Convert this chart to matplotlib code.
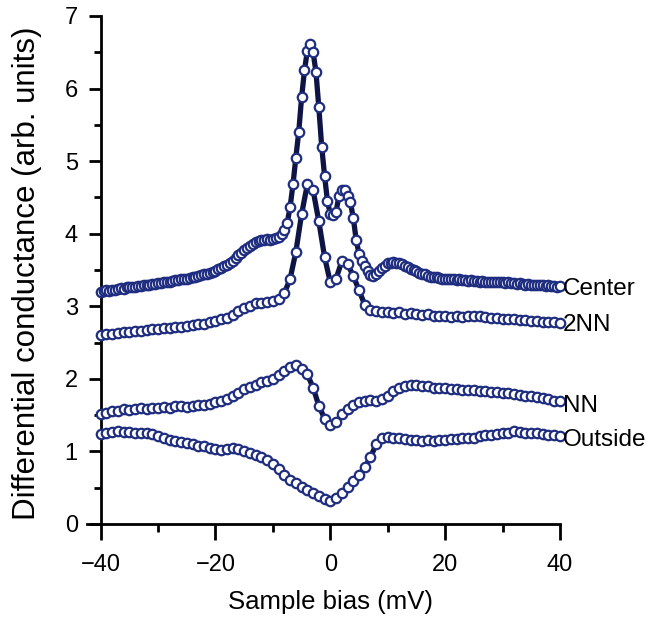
import numpy as np
import matplotlib
matplotlib.use("Agg")
import matplotlib.pyplot as plt
from matplotlib.ticker import MultipleLocator

plt.rcParams['font.family'] = ['Liberation Sans', 'DejaVu Sans']

# ---------------- data ----------------
center_bias = np.arange(-40, 40.01, 0.5)
center_vals = [
    3.20, 3.21, 3.22, 3.21, 3.23, 3.23, 3.24, 3.25, 3.24, 3.26,
    3.26, 3.27, 3.27, 3.28, 3.28, 3.29, 3.29, 3.30, 3.31, 3.31,
    3.32, 3.32, 3.33, 3.34, 3.34, 3.35, 3.36, 3.36, 3.37, 3.38,
    3.38, 3.39, 3.40, 3.41, 3.42, 3.43, 3.44, 3.45, 3.46, 3.47,
    3.49,
    3.51, 3.53, 3.55, 3.57, 3.60, 3.63, 3.66, 3.70, 3.74, 3.77,
    3.80, 3.83, 3.86, 3.88, 3.90, 3.91, 3.92, 3.93, 3.92, 3.93,
    3.94, 3.96, 3.99, 4.05, 4.15, 4.37, 4.68, 5.05, 5.40, 5.88,
    6.25, 6.52, 6.62, 6.50, 6.23, 5.74, 5.20, 4.80, 4.45, 4.27,
    4.26, 4.30, 4.52, 4.60, 4.60, 4.52, 4.43, 4.22, 3.92, 3.72,
    3.62, 3.56, 3.48, 3.43, 3.42, 3.44, 3.48, 3.53, 3.56, 3.59,
    3.60, 3.61, 3.60, 3.59, 3.58, 3.56, 3.54, 3.52, 3.50, 3.48,
    3.46, 3.45, 3.44, 3.42, 3.41, 3.40, 3.40, 3.39, 3.38, 3.38,
    3.37, 3.38, 3.37, 3.36, 3.37, 3.36, 3.36, 3.35, 3.36, 3.35,
    3.35, 3.34, 3.35, 3.34, 3.34, 3.33, 3.34, 3.33, 3.33, 3.33,
    3.32, 3.33, 3.32, 3.32, 3.31, 3.32, 3.31, 3.30, 3.31, 3.30,
    3.30, 3.29, 3.30, 3.29, 3.28, 3.29, 3.28, 3.28, 3.27, 3.28,
]

bias = np.arange(-40, 40.01, 1.0)
nn2_vals = [
    2.61, 2.62, 2.62, 2.63, 2.64, 2.65, 2.66, 2.66, 2.67, 2.68,
    2.69, 2.70, 2.70, 2.71, 2.72, 2.73, 2.74, 2.75, 2.76, 2.78,
    2.80, 2.82, 2.84, 2.88, 2.94, 2.98, 3.01, 3.04, 3.05, 3.06,
    3.07, 3.10, 3.18, 3.38, 3.75, 4.27, 4.68, 4.60, 4.17, 3.68,
    3.33, 3.38, 3.62, 3.58, 3.42, 3.22, 3.02, 2.95, 2.93, 2.92,
    2.92, 2.91, 2.92, 2.90, 2.91, 2.89, 2.88, 2.89, 2.87, 2.86,
    2.86, 2.85, 2.86, 2.85, 2.86, 2.86, 2.87, 2.85, 2.84, 2.84,
    2.83, 2.82, 2.83, 2.81, 2.81, 2.80, 2.80, 2.79, 2.78, 2.78,
    2.77,
]
nn_vals = [
    1.52, 1.53, 1.55, 1.56, 1.58, 1.57, 1.58, 1.60, 1.59, 1.60,
    1.60, 1.61, 1.60, 1.62, 1.62, 1.61, 1.62, 1.64, 1.64, 1.66,
    1.68, 1.70, 1.72, 1.76, 1.81, 1.86, 1.89, 1.92, 1.95, 1.97,
    2.00, 2.05, 2.11, 2.17, 2.19, 2.13, 2.06, 1.88, 1.63, 1.45,
    1.36, 1.40, 1.51, 1.58, 1.64, 1.68, 1.70, 1.71, 1.70, 1.72,
    1.77, 1.83, 1.88, 1.90, 1.91, 1.92, 1.90, 1.90, 1.88, 1.88,
    1.87, 1.86, 1.86, 1.85, 1.85, 1.84, 1.83, 1.83, 1.82, 1.82,
    1.81, 1.80, 1.79, 1.78, 1.77, 1.76, 1.75, 1.74, 1.72, 1.70,
    1.69,
]
outside_vals = [
    1.24, 1.26, 1.27, 1.28, 1.27, 1.27, 1.26, 1.25, 1.25, 1.24,
    1.21, 1.18, 1.16, 1.15, 1.13, 1.12, 1.10, 1.08, 1.07, 1.05,
    1.03, 1.02, 1.04, 1.05, 1.03, 1.01, 0.98, 0.95, 0.92, 0.88,
    0.82, 0.76, 0.68, 0.61, 0.56, 0.51, 0.47, 0.43, 0.38, 0.34,
    0.32, 0.36, 0.43, 0.51, 0.59, 0.68, 0.78, 0.92, 1.10, 1.19,
    1.20, 1.19, 1.18, 1.17, 1.16, 1.16, 1.15, 1.16, 1.15, 1.16,
    1.16, 1.17, 1.17, 1.18, 1.19, 1.19, 1.21, 1.22, 1.22, 1.24,
    1.25, 1.26, 1.28, 1.27, 1.26, 1.25, 1.25, 1.24, 1.23, 1.22,
    1.21,
]

curve_labels = ["Center", "2NN", "NN", "Outside"]
label_y = [3.24, 2.74, 1.63, 1.16]

# ---------------- style ----------------
line_col = '#0e1545'
edge_col = '#1f2d80'

fig = plt.figure(figsize=(6.65, 6.27), dpi=100)
ax = fig.add_axes([0.1514, 0.1643, 0.6906, 0.8102])

series = [(bias, outside_vals), (bias, nn_vals), (bias, nn2_vals),
          (center_bias, center_vals)]
for xs, ys in series:
    ax.plot(xs, ys, '-', color=line_col, lw=3.8, marker='o', ms=6.8,
            mfc='white', mec=edge_col, mew=1.6, zorder=3, clip_on=False)

for lab, yy in zip(curve_labels, label_y):
    ax.text(40.5, yy, lab, fontsize=17.5, ha='left', va='center',
            clip_on=False)

ax.set_xlim(-40, 40)
ax.set_ylim(0, 7)
ax.xaxis.set_major_locator(MultipleLocator(20))
ax.xaxis.set_minor_locator(MultipleLocator(10))
ax.yaxis.set_major_locator(MultipleLocator(1))
ax.yaxis.set_minor_locator(MultipleLocator(0.5))

for s in ['top', 'right']:
    ax.spines[s].set_visible(False)
for s in ['left', 'bottom']:
    ax.spines[s].set_linewidth(2.0)
ax.spines['bottom'].set_bounds(-42.3, 40)

ax.tick_params(axis='x', which='major', direction='out', length=11.5,
               width=2.0, labelsize=17, pad=10)
ax.tick_params(axis='x', which='minor', direction='out', length=5.8,
               width=2.0)
ax.tick_params(axis='y', which='major', direction='out', length=8.5,
               width=2.0, labelsize=17, pad=8)
ax.tick_params(axis='y', which='minor', direction='out', length=5,
               width=2.0)

ax.set_xlabel("Sample bias (mV)", fontsize=18.5)
ax.xaxis.set_label_coords(0.5, -0.13)
ax.set_ylabel("Differential conductance (arb. units)", fontsize=22.5)
ax.yaxis.set_label_coords(-0.128, 0.494)

fig.savefig("out.png", dpi=100)
